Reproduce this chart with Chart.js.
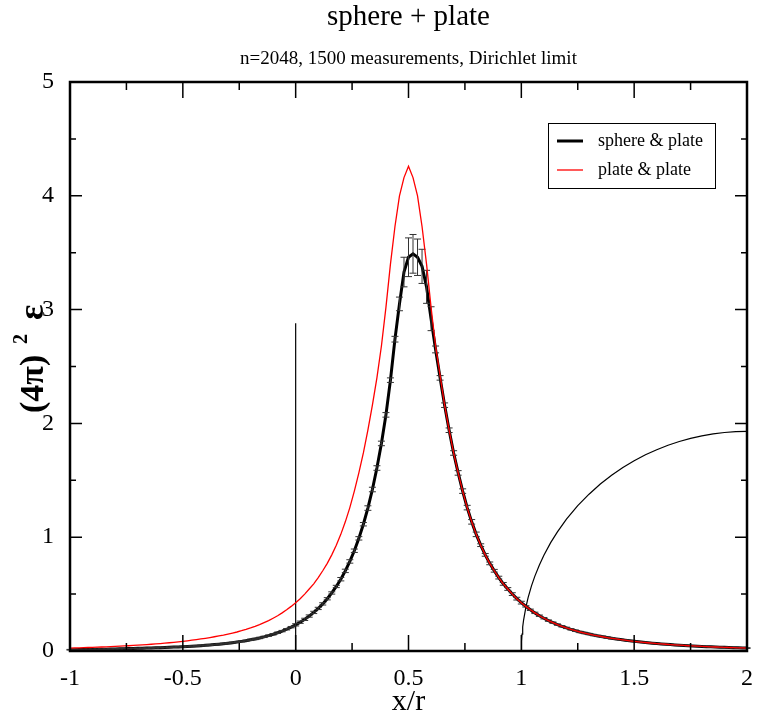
<!DOCTYPE html>
<html>
<head>
<meta charset="utf-8">
<script src="https://cdn.jsdelivr.net/npm/chart.js@4/dist/chart.umd.min.js"></script>
<style>
body { margin: 0; background: #fff; }
canvas { display: block; }
</style>
</head>
<body>
<canvas id="energy-graph" width="758" height="715"></canvas>
<script>
// sample positions x/r, shared by both curves
const xValues = [
  -1.00, -0.98, -0.96, -0.94, -0.92, -0.90, -0.88, -0.86, -0.84, -0.82,
  -0.80, -0.78, -0.76, -0.74, -0.72, -0.70, -0.68, -0.66, -0.64, -0.62,
  -0.60, -0.58, -0.56, -0.54, -0.52, -0.50, -0.48, -0.46, -0.44, -0.42,
  -0.40, -0.38, -0.36, -0.34, -0.32, -0.30, -0.28, -0.26, -0.24, -0.22,
  -0.20, -0.18, -0.16, -0.14, -0.12, -0.10, -0.08, -0.06, -0.04, -0.02,
  0.00, 0.02, 0.04, 0.06, 0.08, 0.10, 0.12, 0.14, 0.16, 0.18,
  0.20, 0.22, 0.24, 0.26, 0.28, 0.30, 0.32, 0.34, 0.36, 0.38,
  0.40, 0.42, 0.44, 0.46, 0.48, 0.50, 0.52, 0.54, 0.56, 0.58,
  0.60, 0.62, 0.64, 0.66, 0.68, 0.70, 0.72, 0.74, 0.76, 0.78,
  0.80, 0.82, 0.84, 0.86, 0.88, 0.90, 0.92, 0.94, 0.96, 0.98,
  1.00, 1.02, 1.04, 1.06, 1.08, 1.10, 1.12, 1.14, 1.16, 1.18,
  1.20, 1.22, 1.24, 1.26, 1.28, 1.30, 1.32, 1.34, 1.36, 1.38,
  1.40, 1.42, 1.44, 1.46, 1.48, 1.50, 1.52, 1.54, 1.56, 1.58,
  1.60, 1.62, 1.64, 1.66, 1.68, 1.70, 1.72, 1.74, 1.76, 1.78,
  1.80, 1.82, 1.84, 1.86, 1.88, 1.90, 1.92, 1.94, 1.96, 1.98,
  2.00
];

// sphere & plate, (4pi)^2 eps
const sphereValues = [
  0.0110, 0.0116, 0.0121, 0.0127, 0.0134, 0.0141, 0.0148, 0.0155, 0.0163, 0.0172,
  0.0180, 0.0189, 0.0199, 0.0209, 0.0220, 0.0231, 0.0243, 0.0255, 0.0268, 0.0282,
  0.0296, 0.0311, 0.0327, 0.0344, 0.0361, 0.0380, 0.0400, 0.0422, 0.0445, 0.0471,
  0.0499, 0.0530, 0.0563, 0.0600, 0.0640, 0.0684, 0.0732, 0.0786, 0.0845, 0.0909,
  0.0981, 0.1059, 0.1146, 0.1243, 0.1351, 0.1469, 0.1601, 0.1748, 0.1912, 0.2095,
  0.230, 0.253, 0.278, 0.307, 0.339, 0.374, 0.414, 0.459, 0.510, 0.567,
  0.631, 0.704, 0.787, 0.881, 0.990, 1.114, 1.256, 1.419, 1.608, 1.824,
  2.075, 2.38, 2.74, 3.05, 3.33, 3.46, 3.49, 3.46, 3.38, 3.20,
  2.92, 2.65, 2.40, 2.16, 1.94, 1.74, 1.565, 1.405, 1.26, 1.135,
  1.025, 0.93, 0.845, 0.77, 0.705, 0.645, 0.59, 0.545, 0.50, 0.46,
  0.425, 0.392, 0.362, 0.335, 0.310, 0.288, 0.267, 0.249, 0.232, 0.217,
  0.203, 0.190, 0.178, 0.167, 0.158, 0.149, 0.140, 0.1325, 0.1252, 0.1183,
  0.1118, 0.1058, 0.1002, 0.0948, 0.0898, 0.0851, 0.0807, 0.0765, 0.0726, 0.0690,
  0.0656, 0.0623, 0.0592, 0.0563, 0.0536, 0.0510, 0.0486, 0.0463, 0.0442, 0.0421,
  0.0402, 0.0384, 0.0367, 0.0351, 0.0335, 0.0320, 0.0307, 0.0294, 0.0281, 0.0270,
  0.0258
];

// error of each sphere & plate measurement
const sphereErrors = [
  0.003, 0.003, 0.003, 0.003, 0.003, 0.003, 0.003, 0.003, 0.003, 0.003,
  0.003, 0.003, 0.003, 0.003, 0.003, 0.003, 0.003, 0.003, 0.003, 0.003,
  0.003, 0.003, 0.003, 0.003, 0.003, 0.004, 0.004, 0.004, 0.004, 0.004,
  0.004, 0.004, 0.004, 0.004, 0.004, 0.004, 0.004, 0.004, 0.004, 0.004,
  0.006, 0.006, 0.006, 0.006, 0.006, 0.006, 0.006, 0.006, 0.006, 0.006,
  0.010, 0.010, 0.010, 0.010, 0.010, 0.010, 0.010, 0.010, 0.010, 0.010,
  0.015, 0.015, 0.015, 0.015, 0.015, 0.015, 0.020, 0.020, 0.020, 0.020,
  0.020, 0.020, 0.025, 0.060, 0.130, 0.170, 0.170, 0.160, 0.150, 0.145,
  0.105, 0.030, 0.020, 0.020, 0.020, 0.020, 0.020, 0.020, 0.020, 0.020,
  0.020, 0.012, 0.012, 0.012, 0.012, 0.012, 0.012, 0.012, 0.012, 0.012,
  0.012, 0.006, 0.006, 0.006, 0.006, 0.006, 0.006, 0.006, 0.006, 0.006,
  0.006, 0.006, 0.006, 0.006, 0.006, 0.006, 0.006, 0.006, 0.006, 0.006,
  0.006, 0.003, 0.003, 0.003, 0.003, 0.003, 0.003, 0.003, 0.003, 0.003,
  0.003, 0.003, 0.003, 0.003, 0.003, 0.003, 0.003, 0.003, 0.003, 0.003,
  0.003, 0.003, 0.003, 0.003, 0.003, 0.003, 0.003, 0.003, 0.003, 0.003,
  0.003
];

// plate & plate reference curve
const plateValues = [
  0.0258, 0.0270, 0.0281, 0.0294, 0.0307, 0.0320, 0.0335, 0.0351, 0.0367, 0.0384,
  0.0402, 0.0421, 0.0442, 0.0463, 0.0486, 0.0510, 0.0536, 0.0563, 0.0592, 0.0623,
  0.0656, 0.0690, 0.0726, 0.0765, 0.0807, 0.0851, 0.0898, 0.0948, 0.1002, 0.1058,
  0.1118, 0.1183, 0.1252, 0.1325, 0.140, 0.149, 0.158, 0.167, 0.178, 0.190,
  0.203, 0.217, 0.232, 0.249, 0.267, 0.288, 0.310, 0.335, 0.362, 0.392,
  0.425, 0.46, 0.50, 0.545, 0.59, 0.645, 0.705, 0.77, 0.845, 0.93,
  1.025, 1.135, 1.26, 1.405, 1.565, 1.74, 1.94, 2.16, 2.40, 2.68,
  3.02, 3.40, 3.73, 4.00, 4.16, 4.26, 4.16, 4.00, 3.73, 3.40,
  3.02, 2.68, 2.42, 2.16, 1.94, 1.74, 1.565, 1.405, 1.26, 1.135,
  1.025, 0.93, 0.845, 0.77, 0.705, 0.645, 0.59, 0.545, 0.50, 0.46,
  0.425, 0.392, 0.362, 0.335, 0.310, 0.288, 0.267, 0.249, 0.232, 0.217,
  0.203, 0.190, 0.178, 0.167, 0.158, 0.149, 0.140, 0.1325, 0.1252, 0.1183,
  0.1118, 0.1058, 0.1002, 0.0948, 0.0898, 0.0851, 0.0807, 0.0765, 0.0726, 0.0690,
  0.0656, 0.0623, 0.0592, 0.0563, 0.0536, 0.0510, 0.0486, 0.0463, 0.0442, 0.0421,
  0.0402, 0.0384, 0.0367, 0.0351, 0.0335, 0.0320, 0.0307, 0.0294, 0.0281, 0.0270,
  0.0258
];

// plate drawn as a line at x = 0
const plateWallX = [0, 0];
const plateWallY = [0, 2.88];

// outline of the sphere
const sphereOutlineX = [1.000, 1.001, 1.003, 1.006, 1.010, 1.020, 1.030, 1.045, 1.060, 1.080,
  1.100, 1.130, 1.160, 1.200, 1.250, 1.300, 1.350, 1.400, 1.450, 1.500,
  1.550, 1.600, 1.650, 1.700, 1.750, 1.800, 1.850, 1.900, 1.950, 2.000];
const sphereOutlineY = [0.000, 0.086, 0.149, 0.211, 0.272, 0.384, 0.469, 0.572, 0.658, 0.756,
  0.841, 0.952, 1.047, 1.158, 1.277, 1.378, 1.467, 1.544, 1.612, 1.671,
  1.724, 1.769, 1.808, 1.841, 1.869, 1.891, 1.908, 1.920, 1.928, 1.930];

const xMajorTicks = [-1, -0.5, 0, 0.5, 1, 1.5, 2];
const xMinorTicks = [-0.75, -0.25, 0.25, 0.75, 1.25, 1.75];
const yMajorTicks = [0, 1, 2, 3, 4, 5];
const yMinorTicks = [0.5, 1.5, 2.5, 3.5, 4.5];

const SERIF = "'Liberation Serif', 'Times New Roman', serif";

function toPoints(xs, ys) {
    return xs.map((x, i) => ({ x: x, y: ys[i] }));
}

const errorBars = { // error bars of the sphere & plate points
    id: 'errorBars',
    afterDatasetDraw(chart, args) {
        if (chart.data.datasets[args.index].label !== 'sphere & plate') return;
        const { ctx, scales: { x, y } } = chart;
        ctx.save();
        ctx.strokeStyle = '#333';
        ctx.lineWidth = 1;
        xValues.forEach((xv, i) => {
            const px = x.getPixelForValue(xv);
            const top = y.getPixelForValue(sphereValues[i] + sphereErrors[i]);
            const bot = y.getPixelForValue(sphereValues[i] - sphereErrors[i]);
            ctx.beginPath();
            ctx.moveTo(px, top); ctx.lineTo(px, bot);
            ctx.moveTo(px - 3.5, top); ctx.lineTo(px + 3.5, top);
            ctx.moveTo(px - 3.5, bot); ctx.lineTo(px + 3.5, bot);
            ctx.stroke();
        });
        ctx.restore();
    }
};

const frameTicks = { // box round the plot with inward ticks on all sides
    id: 'frameTicks',
    afterDraw(chart) {
        const { ctx, chartArea: a, scales: { x, y } } = chart;
        ctx.save();
        ctx.strokeStyle = '#000';
        ctx.lineWidth = 1.5;
        ctx.beginPath();
        const xTick = (v, len) => {
            const p = x.getPixelForValue(v);
            ctx.moveTo(p, a.bottom); ctx.lineTo(p, a.bottom - len);
            ctx.moveTo(p, a.top); ctx.lineTo(p, a.top + len);
        };
        const yTick = (v, len) => {
            const p = y.getPixelForValue(v);
            ctx.moveTo(a.left, p); ctx.lineTo(a.left + len, p);
            ctx.moveTo(a.right, p); ctx.lineTo(a.right - len, p);
        };
        xMajorTicks.forEach(v => xTick(v, 16));
        xMinorTicks.forEach(v => xTick(v, 8));
        yMajorTicks.forEach(v => yTick(v, 12));
        yMinorTicks.forEach(v => yTick(v, 6));
        ctx.stroke();
        ctx.lineWidth = 2.5;
        ctx.strokeRect(a.left, a.top, a.right - a.left, a.bottom - a.top);
        ctx.restore();
    }
};

const texts = { // titles, axis titles and the legend box
    id: 'texts',
    afterDraw(chart) {
        const { ctx, chartArea: a } = chart;
        const cx = (a.left + a.right) / 2;
        ctx.save();
        ctx.fillStyle = '#000';
        ctx.textAlign = 'center';
        ctx.textBaseline = 'alphabetic';
        ctx.font = '29px ' + SERIF;
        ctx.fillText('sphere + plate', cx, 25);
        ctx.font = '19px ' + SERIF;
        ctx.fillText('n=2048, 1500 measurements, Dirichlet limit', cx, 64);
        ctx.font = '30px ' + SERIF;
        ctx.fillText('x/r', cx, 710);

        // y title, rotated
        ctx.save();
        ctx.translate(43, 413);
        ctx.rotate(-Math.PI / 2);
        ctx.textAlign = 'left';
        ctx.font = 'bold 34px ' + SERIF;
        ctx.fillText('(4π)', 0, 0);
        ctx.font = 'bold 20px ' + SERIF;
        ctx.fillText('2', 69, -16);
        ctx.font = 'bold 36px ' + SERIF;
        ctx.fillText('ε', 93, 0);
        ctx.restore();

        // legend
        ctx.lineWidth = 1;
        ctx.strokeStyle = '#000';
        ctx.strokeRect(548.5, 123.5, 167, 65);
        ctx.textAlign = 'left';
        ctx.textBaseline = 'middle';
        ctx.font = '18px ' + SERIF;
        chart.data.datasets.slice(0, 2).forEach((ds, i) => {
            const yy = 141 + i * 29;
            ctx.strokeStyle = ds.borderColor;
            ctx.lineWidth = ds.borderWidth;
            ctx.beginPath();
            ctx.moveTo(557, yy); ctx.lineTo(583, yy);
            ctx.stroke();
            ctx.fillText(ds.label, 598, yy);
        });
        ctx.restore();
    }
};

function energyGraph() {
    const ctx = document.getElementById('energy-graph').getContext('2d');
    new Chart(ctx, {
        type: 'line',
        data: {
            datasets: [
                {
                    label: 'sphere & plate',
                    data: toPoints(xValues, sphereValues),
                    borderColor: '#000',
                    borderWidth: 3,
                    pointRadius: 0,
                    tension: 0,
                    order: 2
                },
                {
                    label: 'plate & plate',
                    data: toPoints(xValues, plateValues),
                    borderColor: '#ff0000',
                    borderWidth: 1.3,
                    pointRadius: 0,
                    tension: 0,
                    order: 1
                },
                {
                    label: 'plate',
                    data: toPoints(plateWallX, plateWallY),
                    borderColor: '#000',
                    borderWidth: 1.2,
                    pointRadius: 0,
                    order: 3
                },
                {
                    label: 'sphere',
                    data: toPoints(sphereOutlineX, sphereOutlineY),
                    borderColor: '#000',
                    borderWidth: 1.2,
                    pointRadius: 0,
                    tension: 0,
                    order: 4
                }
            ]
        },
        options: {
            responsive: false,
            animation: false,
            layout: { padding: { top: 82, right: 6, left: 0, bottom: 0 } },
            plugins: {
                legend: { display: false },
                title: { display: false },
                tooltip: { enabled: false }
            },
            scales: {
                x: {
                    type: 'linear',
                    min: -1,
                    max: 2,
                    afterFit: s => { s.height = 64; },
                    afterBuildTicks: s => { s.ticks = xMajorTicks.map(v => ({ value: v })); },
                    grid: { display: false },
                    border: { display: false },
                    ticks: {
                        padding: 5,
                        color: '#000',
                        font: { family: SERIF, size: 24 },
                        maxRotation: 0,
                        callback: v => String(v)
                    }
                },
                y: {
                    type: 'linear',
                    min: 0,
                    max: 5,
                    afterFit: s => { s.width = 70; },
                    afterBuildTicks: s => { s.ticks = yMajorTicks.map(v => ({ value: v })); },
                    grid: { display: false },
                    border: { display: false },
                    ticks: {
                        padding: 8,
                        color: '#000',
                        font: { family: SERIF, size: 24 },
                        callback: v => String(v)
                    }
                }
            }
        },
        plugins: [errorBars, frameTicks, texts]
    });
}

window.onload = () => {
    energyGraph();
}
</script>
</body>
</html>
